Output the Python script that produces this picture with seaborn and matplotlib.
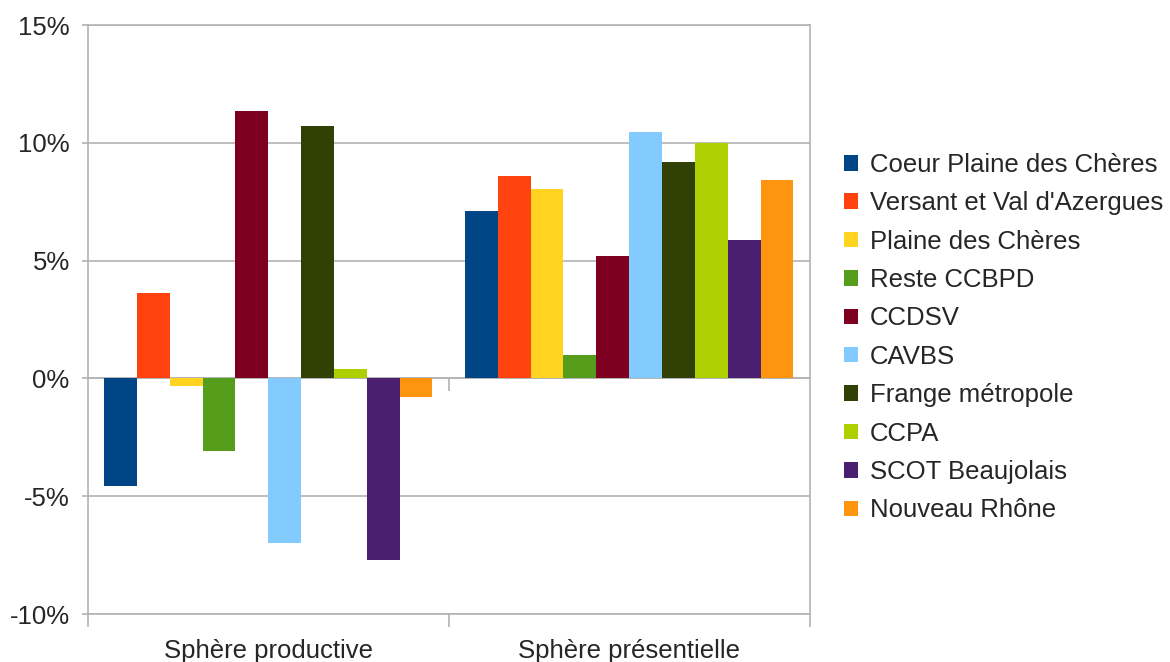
import matplotlib
matplotlib.use("Agg")
import matplotlib.pyplot as plt
import matplotlib.ticker as mticker
import pandas as pd
import seaborn as sns

# Categories (x groups) and territories (hue)
spheres = ["Sphère productive", "Sphère présentielle"]
territories = [
    "Coeur Plaine des Chères",
    "Versant et Val d'Azergues",
    "Plaine des Chères",
    "Reste CCBPD",
    "CCDSV",
    "CAVBS",
    "Frange métropole",
    "CCPA",
    "SCOT Beaujolais",
    "Nouveau Rhône",
]

# Change in % per territory, one list per sphere
productive = [-4.58, 3.64, -0.33, -3.08, 11.36, -6.98, 10.72, 0.42, -7.71, -0.79]
presentielle = [7.13, 8.61, 8.06, 0.99, 5.18, 10.48, 9.20, 10.01, 5.86, 8.44]

colors = ["#004586", "#ff420e", "#ffd320", "#579d1c", "#7e0021",
          "#83caff", "#314004", "#aecf00", "#4b1f6f", "#ff950e"]

df = pd.DataFrame({
    "sphere": [spheres[0]] * len(territories) + [spheres[1]] * len(territories),
    "territory": territories * 2,
    "value": productive + presentielle,
})

sns.set_style("white")
plt.rcParams["font.family"] = ["Liberation Sans", "DejaVu Sans"]
FS = 18.5

fig = plt.figure(figsize=(11.7, 6.62), dpi=100)
ax = fig.add_axes([0.075, 0.0725, 0.617, 0.8895])

sns.barplot(data=df, x="sphere", y="value", hue="territory", order=spheres,
            hue_order=territories, palette=colors, width=0.91,
            saturation=1, linewidth=0, ax=ax)

grid_c = "#b3b3b3"
ax.set_ylim(-10, 15)
ax.set_xlim(-0.5, 1.5)
ax.yaxis.set_major_locator(mticker.MultipleLocator(5))
ax.yaxis.set_major_formatter(mticker.FuncFormatter(lambda v, p: f"{v:.0f}%"))
ax.grid(axis="y", color=grid_c, linewidth=1.2)
ax.set_axisbelow(True)
ax.set_xlabel("")
ax.set_ylabel("")
for s in ax.spines.values():
    s.set_color(grid_c)
    s.set_linewidth(1.2)

ax.tick_params(axis="y", left=True, length=4, width=1.2, color=grid_c,
               labelsize=FS, pad=9)
ax.tick_params(axis="x", which="major", length=0, labelsize=FS, pad=18)
ax.xaxis.set_minor_locator(mticker.FixedLocator([-0.5, 0.5, 1.5]))
ax.tick_params(axis="x", which="minor", bottom=True, length=9, width=1.2,
               color=grid_c)

# category axis crossing at 0 with its own tick marks
zero_ax = ax.secondary_xaxis(10 / 25)
zero_ax.set_xticks([0.5], labels=[""])
zero_ax.tick_params(length=9, width=1.2, color=grid_c)
zero_ax.spines["bottom"].set_color(grid_c)
zero_ax.spines["bottom"].set_linewidth(1.2)

handles, labels = ax.get_legend_handles_labels()
ax.get_legend().remove()
fig.legend(handles, labels, loc="center left", bbox_to_anchor=(0.7125, 0.49),
           frameon=False, fontsize=FS, handlelength=0.55, handleheight=0.55,
           handletextpad=0.45, labelspacing=0.56, borderaxespad=0)

fig.savefig("out.png", dpi=100)
